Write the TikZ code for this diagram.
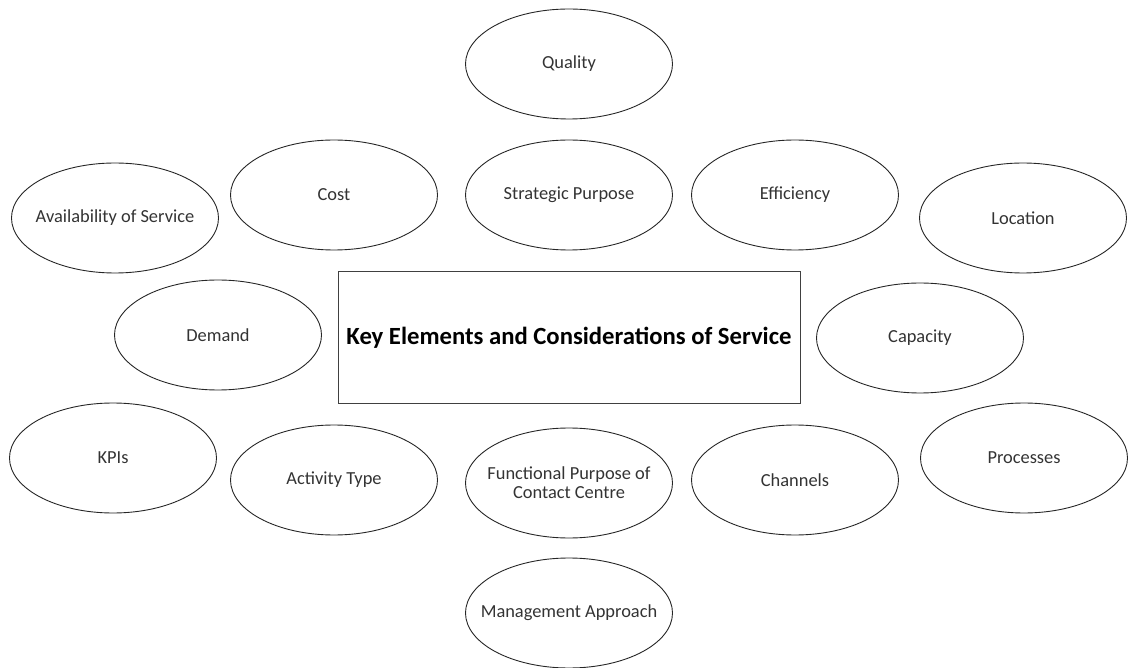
\documentclass[tikz,border=0pt]{standalone}
\usepackage{fontspec}
\setmainfont{Carlito}
\usetikzlibrary{shapes.geometric}
\begin{document}
\begin{tikzpicture}[x=1pt, y=-1pt,
        main/.style = {draw=black!85, line width=0.9pt, ellipse, inner ysep=0pt, inner xsep=-18pt, minimum width=207pt, minimum height=110pt, align=center, text=black!80, font=\fontsize{18.4}{19}\selectfont},
        centre/.style = {draw=black!75, line width=1pt, rectangle, minimum width=462pt, minimum height=132pt, font=\fontsize{24.7}{30}\selectfont\bfseries}]
        \useasboundingbox (0,0) rectangle (1128,668);
        \node[centre] (key) at (569,338) {Key Elements and Considerations of Service};
        \node[main] (quality) at (569,64) {Quality};
        \node[main] (strategic) at (569,195) {Strategic Purpose};
        \node[main] (cost) at (334,195) {Cost};
        \node[main] (efficiency) at (795,195) {Efficiency};
        \node[main] (availability) at (115,218) {Availability of Service};
        \node[main] (location) at (1023,218) {Location};
        \node[main] (demand) at (218,335) {Demand};
        \node[main] (capacity) at (920,338) {Capacity};
        \node[main] (kpis) at (113,458) {KPIs};
        \node[main] (activity) at (334,480) {Activity Type};
        \node[main] (functional) at (569,483) {Functional Purpose of\\Contact Centre};
        \node[main] (channels) at (795,480) {Channels};
        \node[main] (processes) at (1024,458) {Processes};
        \node[main] (management) at (569,613) {Management Approach};
    \end{tikzpicture}
\end{document}
